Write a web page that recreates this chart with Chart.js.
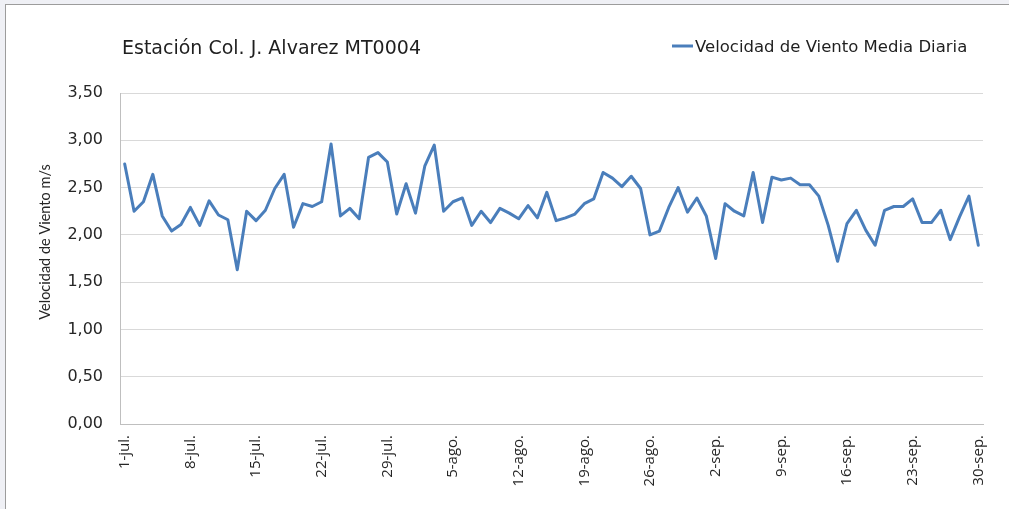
<!DOCTYPE html>
<html><head><meta charset="utf-8">
<script src="https://cdn.jsdelivr.net/npm/chart.js@4.4.1/dist/chart.umd.min.js"></script>
<style>
html,body{margin:0;padding:0;background:#eff0f5;width:1009px;height:509px;overflow:hidden;}
#frame{position:absolute;left:5px;top:4px;width:1004px;height:505px;background:#fff;border-top:1px solid #9c9c9c;border-left:1px solid #9c9c9c;box-sizing:border-box;}
#c{position:absolute;left:0;top:0;}
</style></head><body>
<div id="frame"></div>
<canvas id="c" width="1009" height="509"></canvas>
<script>
const chartTitle = 'Estación Col. J. Alvarez MT0004';
const seriesName = 'Velocidad de Viento Media Diaria';
const yAxisTitle = 'Velocidad de Viento m/s';
const months = ['jul', 'ago', 'sep'];
const monthDays = [31, 31, 30];
const categories = [];
months.forEach((m, i) => { for (let d = 1; d <= monthDays[i]; d++) categories.push(d + '-' + m + '.'); });
const windSpeed = [
  2.75, 2.25, 2.35, 2.64, 2.20, 2.04, 2.11, 2.29, 2.10, 2.36,
  2.21, 2.16, 1.63, 2.25, 2.15, 2.26, 2.49, 2.64, 2.08, 2.33,
  2.30, 2.35, 2.96, 2.20, 2.28, 2.17, 2.82, 2.87, 2.77, 2.22,
  2.54, 2.23, 2.73, 2.95, 2.25, 2.35, 2.39, 2.10, 2.25, 2.13,
  2.28, 2.23, 2.17, 2.31, 2.18, 2.45, 2.15, 2.18, 2.22, 2.33,
  2.38, 2.66, 2.60, 2.51, 2.62, 2.49, 2.00, 2.04, 2.29, 2.50,
  2.24, 2.39, 2.20, 1.75, 2.33, 2.25, 2.20, 2.66, 2.13, 2.61,
  2.58, 2.60, 2.53, 2.53, 2.41, 2.10, 1.72, 2.12, 2.26, 2.05,
  1.89, 2.26, 2.30, 2.30, 2.38, 2.13, 2.13, 2.26, 1.95, 2.19,
  2.41, 1.89
];
const yMin = 0, yMax = 3.5, yStep = 0.5;
const labelEvery = 7;

const textPlugin = {
  id: 'texts',
  afterDraw(chart) {
    const ctx = chart.ctx, a = chart.chartArea;
    ctx.save();
    ctx.fillStyle = '#1f1f1f';
    ctx.textBaseline = 'alphabetic';
    ctx.textAlign = 'left';
    ctx.font = '19px "DejaVu Sans"';
    ctx.fillText(chartTitle, a.left + 2, 54);
    ctx.strokeStyle = '#4a7ebb';
    ctx.lineWidth = 3;
    ctx.beginPath(); ctx.moveTo(672, 46); ctx.lineTo(693, 46); ctx.stroke();
    ctx.font = '16.5px "DejaVu Sans"';
    ctx.fillText(seriesName, 695, 52);
    ctx.translate(45, 242);
    ctx.rotate(-Math.PI / 2);
    ctx.textAlign = 'center';
    ctx.textBaseline = 'middle';
    ctx.font = '14.5px Lato';
    ctx.fillStyle = '#262626';
    ctx.fillText(yAxisTitle, 0, 0);
    ctx.restore();
  }
};

new Chart(document.getElementById('c'), {
  type: 'line',
  data: {
    labels: categories,
    datasets: [{
      label: seriesName,
      data: windSpeed,
      borderColor: '#4a7ebb',
      backgroundColor: '#4a7ebb',
      borderWidth: 3,
      pointRadius: 0,
      tension: 0,
      borderJoinStyle: 'round',
      borderCapStyle: 'round',
      fill: false
    }]
  },
  options: {
    responsive: false,
    animation: false,
    layout: { padding: { left: 0, right: 26, top: 93, bottom: 0 } },
    plugins: { legend: { display: false }, title: { display: false }, tooltip: { enabled: false } },
    scales: {
      x: {
        offset: true,
        grid: { display: false, drawTicks: false },
        border: { display: true, color: '#bfbfbf', width: 1 },
        ticks: {
          autoSkip: false,
          minRotation: 90,
          maxRotation: 90,
          padding: 11,
          color: '#262626',
          font: { family: '"Open Sans"', size: 15 },
          callback: (v, i) => (i % labelEvery === 0 ? categories[i] : '')
        },
        afterFit: (s) => { s.height = 85; }
      },
      y: {
        min: yMin,
        max: yMax,
        grid: { color: '#d9d9d9', lineWidth: 1, drawTicks: false },
        border: { display: true, color: '#bfbfbf', width: 1 },
        ticks: {
          stepSize: yStep,
          padding: 17,
          color: '#262626',
          font: { family: '"DejaVu Sans"', size: 16 },
          callback: (v) => v.toFixed(2).replace('.', ',')
        },
        afterFit: (s) => { s.width = 120; }
      }
    }
  },
  plugins: [textPlugin]
});
</script>
</body></html>
